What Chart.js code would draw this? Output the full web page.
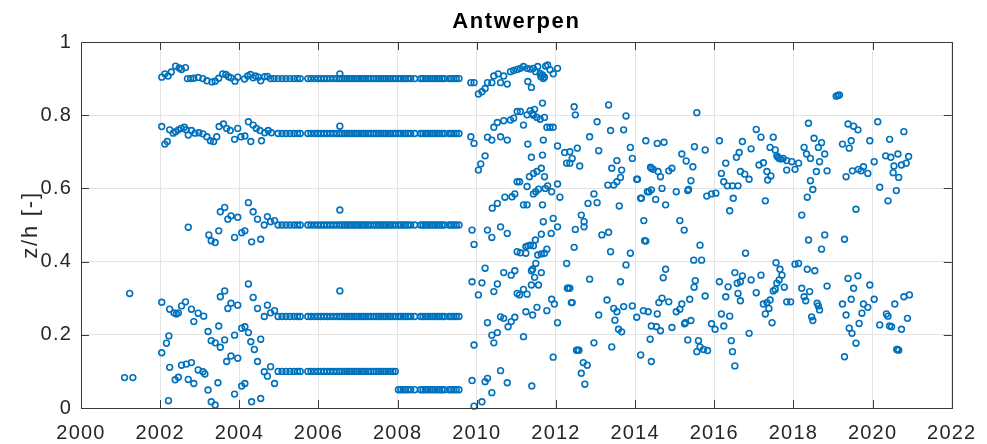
<!DOCTYPE html>
<html>
<head>
<meta charset="utf-8">
<script src="https://cdn.jsdelivr.net/npm/chart.js@4/dist/chart.umd.min.js"></script>
<style>
  html, body { margin: 0; padding: 0; background: #ffffff; }
  #wrap { width: 987px; height: 444px; position: relative; }
</style>
</head>
<body>
<div id="wrap"><canvas id="chart" width="987" height="444"></canvas></div>
<script>
// Relative measurement height z/h per survey, Antwerpen station.

const chartTitle = 'Antwerpen';
const yAxisLabel = 'z/h [-]';
const yearTicks = [2000, 2002, 2004, 2006, 2008, 2010, 2012, 2014, 2016, 2018, 2020, 2022];
const zTicks = [0, 0.2, 0.4, 0.6, 0.8, 1];

// Early profiles, 2001-2004: [year, z/h]
const profiles2001to2004 = [
  [2001.1,0.083],[2001.31,0.083],[2001.23,0.313],
  [2002.04,0.904],[2002.12,0.913],[2002.2,0.907],[2002.28,0.918],[2002.39,0.934],[2002.48,0.929],[2002.54,0.925],[2002.64,0.93],
  [2002.69,0.9],[2002.77,0.9],[2002.85,0.901],[2002.96,0.903],[2003.08,0.9],[2003.18,0.894],[2003.31,0.891],[2003.39,0.893],
  [2003.48,0.901],[2003.58,0.913],[2003.66,0.911],[2003.73,0.905],[2003.79,0.902],[2003.89,0.893],[2003.96,0.904],[2004.13,0.899],
  [2004.21,0.907],[2004.28,0.911],[2004.35,0.902],[2004.41,0.907],[2004.48,0.904],[2004.54,0.894],[2004.64,0.905],[2004.71,0.906],
  [2004.79,0.9],[2004.88,0.9],
  [2002.04,0.769],[2002.12,0.721],[2002.18,0.728],[2002.24,0.76],[2002.33,0.751],[2002.39,0.755],[2002.46,0.76],[2002.53,0.764],
  [2002.61,0.767],[2002.66,0.76],[2002.71,0.746],[2002.79,0.758],[2002.88,0.751],[2002.98,0.752],[2003.08,0.749],[2003.18,0.741],
  [2003.27,0.73],[2003.35,0.728],[2003.43,0.741],[2003.49,0.769],[2003.6,0.776],[2003.68,0.764],[2003.77,0.758],[2003.88,0.734],
  [2003.96,0.764],[2004.04,0.741],[2004.14,0.743],[2004.23,0.782],[2004.29,0.728],[2004.35,0.773],[2004.43,0.764],[2004.52,0.758],
  [2004.56,0.73],[2004.64,0.752],[2004.73,0.758],[2004.81,0.752],
  [2002.71,0.494],[2003.23,0.473],[2003.29,0.457],[2003.39,0.452],[2003.48,0.484],[2003.52,0.536],[2003.63,0.548],[2003.71,0.516],
  [2003.79,0.525],[2003.96,0.521],[2003.88,0.466],[2004.06,0.479],[2004.14,0.484],[2004.23,0.561],[2004.35,0.536],[2004.46,0.516],
  [2004.31,0.454],[2004.54,0.461],[2004.63,0.5],[2004.71,0.523],[2004.79,0.509],[2004.89,0.512],
  [2002.04,0.289],[2002.24,0.27],[2002.35,0.26],[2002.41,0.257],[2002.46,0.26],[2002.54,0.279],[2002.64,0.29],[2002.79,0.27],
  [2002.85,0.236],[2002.96,0.259],[2003.1,0.251],[2003.21,0.209],[2003.29,0.184],[2003.39,0.178],[2003.48,0.224],[2003.52,0.166],
  [2003.63,0.186],[2003.52,0.304],[2003.63,0.32],[2003.71,0.272],[2003.79,0.286],[2003.96,0.281],[2003.88,0.199],[2004.06,0.218],
  [2004.14,0.222],[2004.23,0.206],[2004.29,0.181],[2004.38,0.16],[2004.23,0.339],[2004.35,0.302],[2004.46,0.272],[2004.71,0.281],
  [2004.79,0.26],[2004.89,0.266],[2004.63,0.25],[2004.54,0.188],
  [2002.04,0.151],[2002.16,0.177],[2002.22,0.197],[2002.24,0.111],[2002.38,0.077],[2002.46,0.084],[2002.54,0.117],[2002.66,0.12],
  [2002.79,0.124],[2002.71,0.078],[2002.85,0.067],[2002.96,0.104],[2003.08,0.099],[2003.13,0.093],[2003.21,0.049],[2003.46,0.069],
  [2003.29,0.017],[2003.39,0.008],[2002.21,0.02],[2003.68,0.127],[2003.79,0.142],[2003.96,0.136],[2003.88,0.038],[2004.06,0.06],
  [2004.14,0.067],[2004.31,0.017],[2004.54,0.026],[2004.46,0.127],[2004.63,0.099],[2004.71,0.087],[2004.79,0.113],[2004.89,0.067]
];

// Fixed-depth surveys 2005-2009: every survey date samples the same set of levels
const surveyDates2005to2007 = [
  2004.98, 2005.08, 2005.18, 2005.28, 2005.38, 2005.47, 2005.54,
  2005.73, 2005.81, 2005.9, 2005.98, 2006.06, 2006.14, 2006.22, 2006.3, 2006.38, 2006.46,
  2006.54, 2006.6, 2006.66, 2006.72, 2006.78, 2006.84, 2006.9, 2006.96, 2007.02, 2007.08, 2007.14,
  2007.2, 2007.26, 2007.32, 2007.4, 2007.46, 2007.52, 2007.58, 2007.64, 2007.7, 2007.76, 2007.82,
  2007.88, 2007.94
];
const levels2005to2007 = [0.9, 0.75, 0.5, 0.25, 0.1];
const surveyDates2008to2009 = [
  2008.02, 2008.08, 2008.14, 2008.2, 2008.26, 2008.33, 2008.43,
  2008.58, 2008.64, 2008.7, 2008.76, 2008.82, 2008.88, 2008.94, 2009.0, 2009.06, 2009.12, 2009.18,
  2009.3, 2009.36, 2009.42, 2009.48, 2009.55
];
const levels2008to2009 = [0.9, 0.75, 0.5, 0.25, 0.05];
const profile2006Extra = [[2006.54,0.913],[2006.54,0.77],[2006.54,0.541],[2006.54,0.32]];

// Free-depth profiles from late 2009 onwards: [year, z/h]
const profiles2010to2012 = [
  [2009.85,0.889],[2009.93,0.889],[2009.85,0.741],[2009.93,0.723],[2009.88,0.486],[2009.93,0.447],
  [2009.88,0.345],[2009.93,0.172],[2009.88,0.075],[2009.93,0.005],
  [2010.04,0.858],[2010.13,0.864],[2010.21,0.873],[2010.27,0.889],[2010.38,0.889],[2010.43,0.907],[2010.54,0.913],[2010.6,0.889],
  [2010.68,0.907],[2010.77,0.885],[2010.85,0.919],[2010.93,0.922],[2011.02,0.925],[2011.1,0.928],[2011.18,0.933],[2011.27,0.928],
  [2011.29,0.892],[2011.38,0.876],[2011.35,0.926],[2011.43,0.928],[2011.49,0.919],[2011.54,0.933],[2011.6,0.914],[2011.66,0.91],
  [2011.71,0.904],[2011.74,0.934],[2011.79,0.937],[2011.85,0.924],[2011.93,0.913],[2012.04,0.928],[2011.62,0.905],[2011.68,0.9],
  [2010.04,0.65],[2010.1,0.667],[2010.21,0.689],[2010.27,0.74],[2010.38,0.732],[2010.43,0.767],[2010.52,0.78],[2010.6,0.741],
  [2010.68,0.785],[2010.77,0.732],[2010.85,0.787],[2010.93,0.792],[2011.02,0.81],[2011.1,0.81],[2011.18,0.773],[2011.27,0.801],
  [2011.35,0.812],[2011.46,0.816],[2011.52,0.794],[2011.6,0.789],[2011.66,0.833],[2011.71,0.794],[2011.77,0.767],[2011.85,0.767],
  [2011.93,0.767],[2011.4,0.805],[2011.43,0.8],
  [2011.29,0.721],[2011.68,0.732],[2012.04,0.716],[2011.38,0.685],[2011.66,0.691],[2011.63,0.655],[2011.43,0.641],[2011.52,0.646],
  [2011.33,0.632],[2011.71,0.632],[2011.02,0.618],[2011.08,0.618],[2011.27,0.605],[2011.79,0.607],[2011.73,0.6],[2011.89,0.591],
  [2012.04,0.612],[2012.1,0.576],[2011.49,0.591],[2011.43,0.585],[2011.56,0.598],[2010.96,0.585],[2010.89,0.577],[2010.71,0.576],
  [2010.52,0.559],[2010.39,0.546],[2011.18,0.555],[2011.27,0.555],[2011.66,0.555],
  [2010.27,0.486],[2010.38,0.466],[2010.6,0.495],[2010.77,0.477],[2011.68,0.509],[2011.93,0.518],[2012.04,0.495],[2011.88,0.477],
  [2011.63,0.475],[2011.48,0.459],[2011.35,0.445],[2011.29,0.443],[2011.24,0.441],[2011.43,0.443],[2011.77,0.434],[2011.71,0.423],
  [2011.63,0.421],[2011.54,0.418],[2011.02,0.427],[2011.1,0.424],[2011.24,0.423],
  [2010.04,0.309],[2010.13,0.342],[2010.21,0.382],[2010.52,0.339],[2010.43,0.318],[2010.68,0.37],[2010.87,0.363],[2010.96,0.375],
  [2011.41,0.379],[2011.38,0.375],[2011.46,0.357],[2011.49,0.395],[2011.63,0.37],[2011.56,0.336],[2011.38,0.336],[2011.18,0.324],
  [2011.08,0.309],[2011.02,0.313],[2011.27,0.311],
  [2011.89,0.297],[2011.96,0.284],[2011.77,0.266],[2011.52,0.275],[2011.41,0.254],[2011.24,0.263],[2010.96,0.248],[2010.79,0.222],
  [2010.87,0.236],[2010.68,0.245],[2010.6,0.249],[2010.27,0.233],[2010.38,0.199],[2010.43,0.178],[2010.52,0.206],[2011.18,0.195],
  [2012.04,0.233],[2011.93,0.139],[2010.6,0.102],[2010.21,0.072],[2010.27,0.081],[2010.77,0.069],[2011.39,0.06],[2010.38,0.042],
  [2010.13,0.017]
];

const profiles2012to2016 = [
  [2012.46,0.823],[2012.49,0.801],[2013.33,0.828],[2013.77,0.798],[2013.04,0.782],[2013.71,0.76],[2013.38,0.758],[2012.85,0.741],
  [2014.27,0.73],[2012.54,0.71],[2012.35,0.7],[2012.22,0.698],[2013.08,0.703],[2013.88,0.712],[2012.41,0.682],[2012.35,0.669],
  [2012.27,0.669],[2012.6,0.661],[2013.93,0.682],[2013.54,0.676],[2013.41,0.655],[2013.66,0.65],[2014.41,0.655],[2013.63,0.63],
  [2013.54,0.618],[2013.46,0.609],[2013.31,0.609],[2014.04,0.625],[2014.35,0.591],[2014.41,0.596],[2012.96,0.585],[2012.81,0.559],
  [2013.04,0.561],[2013.6,0.552],[2014.16,0.573],
  [2012.64,0.527],[2012.71,0.509],[2012.71,0.495],[2012.49,0.488],[2012.46,0.439],[2013.16,0.473],[2013.33,0.48],[2013.38,0.427],
  [2013.88,0.423],[2014.22,0.512],[2014.24,0.457],
  [2012.27,0.395],[2012.29,0.327],[2012.31,0.327],[2012.35,0.327],[2012.85,0.352],[2013.77,0.391],[2013.63,0.345],[2012.39,0.288],
  [2012.41,0.288],[2013.08,0.254],[2013.29,0.295],[2013.46,0.272],[2013.54,0.263],[2013.49,0.24],[2013.58,0.215],[2013.66,0.208],
  [2013.71,0.277],[2013.93,0.279],[2014.04,0.248],[2014.21,0.266],[2014.33,0.263],[2014.41,0.224],[2014.38,0.188],[2012.96,0.178],
  [2013.41,0.167],[2012.52,0.158],[2012.55,0.158],[2012.58,0.158],[2012.69,0.124],[2012.79,0.117],[2012.64,0.095],[2012.73,0.065],
  [2014.14,0.145],[2014.41,0.127],
  [2015.56,0.807],[2014.56,0.723],[2014.73,0.726],[2015.5,0.714],[2015.77,0.705],[2016.13,0.73],[2015.18,0.694],[2015.29,0.675],
  [2015.46,0.659],[2014.39,0.658],[2014.46,0.652],[2014.58,0.646],[2014.64,0.632],[2014.85,0.648],[2014.93,0.655],[2014.06,0.625],
  [2015.41,0.621],[2015.35,0.597],[2015.33,0.594],[2014.68,0.6],[2014.31,0.591],[2015.04,0.591],[2014.14,0.573],[2014.52,0.57],
  [2014.77,0.555],[2015.81,0.579],[2015.93,0.585],[2016.04,0.587],[2015.13,0.512],[2015.24,0.486],[2014.27,0.456],[2015.64,0.445],
  [2015.48,0.404],[2015.68,0.404],
  [2014.77,0.379],[2014.71,0.356],[2015.52,0.348],[2015.49,0.33],[2015.77,0.306],[2014.68,0.3],[2014.6,0.288],[2014.85,0.29],
  [2015.38,0.297],[2015.18,0.284],[2015.13,0.27],[2015.04,0.263],[2014.56,0.257],[2015.41,0.239],[2015.27,0.233],[2015.25,0.23],
  [2014.54,0.222],[2014.64,0.211],[2014.93,0.22],[2015.33,0.186],[2015.6,0.184],[2015.64,0.167],[2015.56,0.154],[2015.83,0.157],
  [2015.73,0.16],
  [2016.13,0.345],[2016.35,0.331],[2016.29,0.304],[2016.18,0.257],[2016.24,0.224],[2016.39,0.251],[2015.93,0.23],[2016.02,0.215]
];

const profiles2016to2021 = [
  [2016.71,0.728],[2016.93,0.708],[2016.63,0.698],[2016.56,0.685],[2016.29,0.669],[2016.18,0.641],[2016.24,0.618],[2016.33,0.607],
  [2016.46,0.607],[2016.6,0.607],[2016.66,0.646],[2016.77,0.639],[2016.88,0.625],[2016.48,0.573],[2016.39,0.539],[2016.79,0.423],
  [2017.06,0.761],[2017.18,0.74],[2017.49,0.74],[2017.41,0.712],[2017.54,0.705],[2017.58,0.689],[2017.64,0.682],[2017.74,0.682],
  [2017.83,0.676],[2017.96,0.673],[2017.61,0.685],[2017.68,0.68],[2017.13,0.664],[2017.24,0.67],[2017.33,0.646],[2017.43,0.634],
  [2017.35,0.623],[2017.29,0.566],[2017.83,0.65],[2018.04,0.652],[2018.13,0.669],
  [2018.38,0.778],[2018.52,0.737],[2018.71,0.725],[2018.63,0.712],[2018.27,0.712],[2018.33,0.694],[2018.43,0.682],[2018.66,0.673],
  [2018.79,0.694],[2018.85,0.648],[2018.58,0.646],[2018.43,0.621],[2018.49,0.597],[2018.35,0.576],[2018.21,0.527],[2018.38,0.459],
  [2018.79,0.473],[2018.71,0.434],
  [2016.52,0.37],[2016.58,0.341],[2016.66,0.345],[2016.71,0.361],[2016.6,0.313],[2016.66,0.293],[2016.93,0.35],[2017.18,0.363],
  [2017.06,0.315],[2016.88,0.204],[2016.43,0.184],[2016.46,0.154],[2016.52,0.115],
  [2017.56,0.397],[2017.66,0.379],[2017.71,0.363],[2017.64,0.35],[2017.58,0.341],[2017.54,0.324],[2017.49,0.32],[2017.77,0.33],
  [2017.41,0.295],[2017.24,0.284],[2017.33,0.288],[2017.38,0.272],[2017.29,0.257],[2017.46,0.233],[2017.83,0.29],[2017.93,0.29],
  [2018.04,0.393],[2018.13,0.395],[2018.35,0.379],[2018.54,0.375],[2018.85,0.333],[2018.21,0.327],[2018.27,0.304],[2018.31,0.293],
  [2018.41,0.318],[2018.6,0.286],[2018.63,0.279],[2018.66,0.268],[2018.46,0.249],[2018.49,0.239],
  [2019.08,0.852],[2019.12,0.854],[2019.16,0.855],[2019.38,0.776],[2019.52,0.77],[2019.63,0.76],[2020.13,0.782],[2020.79,0.755],
  [2019.24,0.721],[2019.41,0.71],[2019.46,0.73],[2019.93,0.73],[2020.43,0.734],[2020.33,0.689],[2020.46,0.685],[2020.64,0.694],
  [2020.91,0.687],[2020.04,0.673],[2020.54,0.661],[2020.73,0.664],[2020.85,0.669],[2020.52,0.643],[2020.66,0.63],[2019.33,0.632],
  [2019.49,0.648],[2019.64,0.652],[2019.77,0.659],[2019.71,0.648],[2019.88,0.641],[2020.18,0.603],[2020.6,0.594],[2020.39,0.566],
  [2019.58,0.543],[2019.29,0.461],
  [2019.38,0.354],[2019.63,0.361],[2019.52,0.327],[2019.46,0.297],[2019.24,0.284],[2019.33,0.254],[2019.41,0.218],[2019.48,0.204],
  [2019.58,0.177],[2019.29,0.14],[2019.77,0.284],[2019.88,0.275],[2019.73,0.259],[2019.66,0.231],[2019.93,0.336],[2020.04,0.297],
  [2020.18,0.227],[2020.35,0.257],[2020.39,0.251],[2020.43,0.224],[2020.48,0.222],[2020.56,0.284],[2020.79,0.304],[2020.93,0.309],
  [2020.88,0.245],[2020.73,0.215],[2020.61,0.16],[2020.63,0.16],[2020.66,0.158]
];

// ---- build point tables ----
const toPoints = rows => rows.map(([x, y]) => ({ x, y }));
const gridPoints = (dates, levels) => {
  const pts = [];
  levels.forEach(z => dates.forEach(d => pts.push({ x: d, y: z })));
  return pts;
};

const MARKER = '#0072BD';
const FONT = "'Liberation Sans', Arial, Helvetica, sans-serif";
const AXIS_COLOR = '#3a3a3a';
const TEXT_COLOR = '#262626';

const series = [
  toPoints(profiles2001to2004),
  gridPoints(surveyDates2005to2007, levels2005to2007),
  gridPoints(surveyDates2008to2009, levels2008to2009),
  toPoints(profile2006Extra),
  toPoints(profiles2010to2012),
  toPoints(profiles2012to2016),
  toPoints(profiles2016to2021)
];

const datasets = series.map(pts => ({
  data: pts,
  pointStyle: 'circle',
  pointRadius: 2.9,
  pointHoverRadius: 2.9,
  pointBorderWidth: 1.6,
  borderColor: MARKER,
  pointBorderColor: MARKER,
  pointBackgroundColor: 'rgba(0,0,0,0)',
  showLine: false,
  clip: 6
}));

// Wider letter spacing for all canvas text (tick labels included)
const spacing = {
  id: 'spacing',
  beforeDraw(chart) { chart.ctx.letterSpacing = '1.2px'; }
};

// Box, inward tick marks, title and y-axis label, drawn the way MATLAB axes look
const frame = {
  id: 'frame',
  afterDatasetsDraw(chart) {
    const { ctx, chartArea: a, scales } = chart;
    const tl = 8;
    ctx.save();
    ctx.strokeStyle = AXIS_COLOR;
    ctx.lineWidth = 1;
    ctx.beginPath();
    yearTicks.forEach(v => {
      const px = Math.round(scales.x.getPixelForValue(v)) + 0.5;
      ctx.moveTo(px, a.bottom); ctx.lineTo(px, a.bottom - tl);
      ctx.moveTo(px, a.top); ctx.lineTo(px, a.top + tl);
    });
    zTicks.forEach(v => {
      const py = Math.round(scales.y.getPixelForValue(v)) + 0.5;
      ctx.moveTo(a.left, py); ctx.lineTo(a.left + tl, py);
      ctx.moveTo(a.right, py); ctx.lineTo(a.right - tl, py);
    });
    ctx.stroke();
    ctx.strokeRect(Math.round(a.left) + 0.5, Math.round(a.top) + 0.5,
                   Math.round(a.right - a.left), Math.round(a.bottom - a.top));

    ctx.fillStyle = '#000000';
    ctx.letterSpacing = '1.6px';
    ctx.font = 'bold 22px ' + FONT;
    ctx.textAlign = 'center';
    ctx.textBaseline = 'middle';
    ctx.fillText(chartTitle, (a.left + a.right) / 2, 22);

    ctx.fillStyle = TEXT_COLOR;
    ctx.letterSpacing = '1.8px';
    ctx.font = '22px ' + FONT;
    ctx.translate(31, (a.top + a.bottom) / 2);
    ctx.rotate(-Math.PI / 2);
    ctx.fillText(yAxisLabel, 0, 0);
    ctx.restore();
  }
};

new Chart(document.getElementById('chart'), {
  type: 'scatter',
  data: { datasets },
  options: {
    responsive: false,
    animation: false,
    events: [],
    layout: { padding: { left: 0, right: 26, top: 42, bottom: 0 } },
    plugins: { legend: { display: false }, tooltip: { enabled: false }, title: { display: false } },
    scales: {
      x: {
        type: 'linear',
        min: 2000, max: 2022,
        afterBuildTicks: s => { s.ticks = yearTicks.map(v => ({ value: v })); },
        afterFit: s => { s.height = 36; },
        grid: { color: '#e4e4e4', lineWidth: 1, drawTicks: false },
        border: { display: false },
        ticks: { callback: v => String(v), color: TEXT_COLOR, font: { family: FONT, size: 20 }, padding: 13, maxRotation: 0, autoSkip: false }
      },
      y: {
        type: 'linear',
        min: 0, max: 1,
        afterBuildTicks: s => { s.ticks = zTicks.map(v => ({ value: v })); },
        afterFit: s => { s.width = 81; },
        grid: { color: '#e4e4e4', lineWidth: 1, drawTicks: false },
        border: { display: false },
        ticks: { callback: v => String(v), color: TEXT_COLOR, font: { family: FONT, size: 20 }, padding: 9, autoSkip: false }
      }
    }
  },
  plugins: [spacing, frame]
});
</script>
</body>
</html>
